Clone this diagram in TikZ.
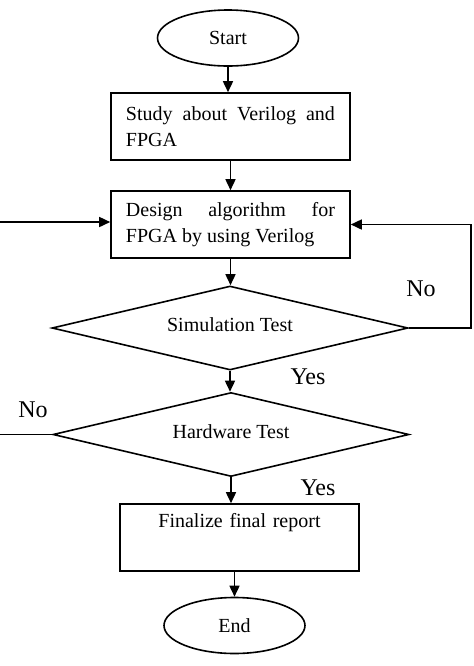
\documentclass[tikz,border=0pt]{standalone}
\usepackage{fontspec}
\setmainfont{Liberation Serif}
\usetikzlibrary{shapes.geometric, arrows.meta}

\begin{document}
\begin{tikzpicture}[x = 0.5pt, y = -0.5pt, line width = 0.8pt,
    every node/.style = {font = \fontsize{10}{13}\selectfont},
    term/.style = {shape = ellipse, draw, minimum width = 70.5pt, minimum height = 28pt, inner sep = 0pt},
    box/.style = {shape = rectangle, draw, minimum height = 33.5pt, text width = 104.5pt,
        inner xsep = 7.5pt, align = justify},
    test/.style = {shape = diamond, draw, aspect = 4.24, minimum width = 178pt, minimum height = 42pt,
        inner sep = 0pt},
    answer/.style = {font = \fontsize{12}{14}\selectfont},
    arrow/.style = {-{Triangle[length = 5.5pt, width = 5pt]}}]
    \useasboundingbox (0,0) rectangle (474,666);
        \node[term] (start) at (228,38) {Start};
        \node[box] (study) at (230.5,126.5) {Study about Verilog and FPGA};
        \node[box] (design) at (230.5,224.5) {Design algorithm for FPGA by using Verilog};
        \node[test] (sim) at (230,328) {\raisebox{3pt}{Simulation Test}};
        \node[test] (hw) at (231,434.5) {\raisebox{3pt}{Hardware Test}};
        \node[box, align = center, inner ysep = 0pt] (final) at (239.5,537.5) {Finalize final report\\\strut};
        \node[term] (end) at (234.5,625.5) {End};
        % free ends on the left and the loop corner on the right
        \coordinate (in) at (0,222);
        \coordinate (out) at (0,434.5);
        \coordinate (loop) at (471,328);
        \draw[arrow] (start) -- (start |- study.north);
        \draw[arrow] (study) -- (study |- design.north);
        \draw[arrow] (design) -- (design |- sim.north);
        \draw[arrow] (sim) -- (sim |- hw.north);
        \draw[arrow] (hw) -- (hw |- final.north);
        \draw[arrow] (end |- final.south) -- (end);
        \draw[arrow] (in) -- (in -| design.west);
        \draw[arrow] (sim.east) -- (loop) |- (design.east);
        \draw (hw.west) -- (out);
        \node[answer] (simno) at (421,289) {No};
        \node[answer] (simyes) at (308,377) {Yes};
        \node[answer] (hwno) at (33,410) {No};
        \node[answer] (hwyes) at (318,488) {Yes};
\end{tikzpicture}
\end{document}
